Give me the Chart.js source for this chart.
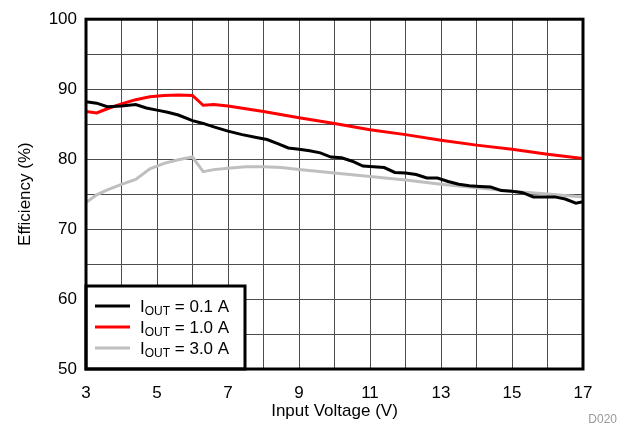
<!DOCTYPE html>
<html>
<head>
<meta charset="utf-8">
<script src="https://cdn.jsdelivr.net/npm/chart.js@4"></script>
<style>
  html, body { margin: 0; padding: 0; background: #fff; }
  #wrap { width: 628px; height: 431px; position: relative; }
</style>
</head>
<body>
<div id="wrap"><canvas id="eff-chart"></canvas></div>
<script>
// Efficiency vs input voltage
const v_01 = [3.0, 3.3, 3.6, 4.0, 4.4, 4.7, 5.0, 5.3, 5.6, 6.0, 6.3, 6.6, 7.0, 7.4, 7.8, 8.1, 8.4, 8.7, 9.0, 9.3, 9.6, 9.9, 10.2, 10.5, 10.8, 11.1, 11.4, 11.7, 12.0, 12.3, 12.6, 12.9, 13.2, 13.5, 13.8, 14.1, 14.4, 14.7, 15.0, 15.3, 15.6, 15.9, 16.2, 16.5, 16.8, 17.0];
const eff_01 = [88.2, 88.0, 87.5, 87.6, 87.8, 87.3, 87.0, 86.7, 86.3, 85.5, 85.1, 84.6, 84.0, 83.5, 83.1, 82.8, 82.2, 81.6, 81.4, 81.2, 80.9, 80.3, 80.2, 79.7, 79.0, 78.9, 78.8, 78.1, 78.0, 77.8, 77.3, 77.3, 76.8, 76.4, 76.2, 76.1, 76.0, 75.5, 75.4, 75.2, 74.6, 74.6, 74.6, 74.3, 73.7, 73.9];

const v_10 = [3.0, 3.3, 3.6, 4.0, 4.4, 4.8, 5.2, 5.6, 6.0, 6.3, 6.6, 7.0, 7.5, 8.0, 9.0, 10.0, 11.0, 12.0, 13.0, 14.0, 15.0, 16.0, 17.0];
const eff_10 = [86.8, 86.6, 87.2, 87.9, 88.5, 88.9, 89.1, 89.15, 89.1, 87.7, 87.8, 87.6, 87.2, 86.8, 85.9, 85.1, 84.2, 83.5, 82.7, 82.0, 81.4, 80.7, 80.1];

const v_30 = [3.0, 3.3, 3.6, 4.0, 4.4, 4.8, 5.2, 5.6, 6.0, 6.3, 6.6, 7.0, 7.5, 8.0, 8.5, 9.0, 10.0, 11.0, 12.0, 13.0, 14.0, 15.0, 16.0, 17.0];
const eff_30 = [73.8, 74.9, 75.6, 76.4, 77.1, 78.6, 79.4, 79.9, 80.3, 78.2, 78.5, 78.7, 78.9, 78.9, 78.8, 78.5, 78.0, 77.5, 77.0, 76.4, 75.9, 75.4, 75.0, 74.6];

const series_names = ['0.1 A', '1.0 A', '3.0 A'];
const series_colors = ['#000000', '#ff0000', '#bfbfbf'];

const font_family = '"Liberation Sans", Arial, Helvetica, sans-serif';
const toPoints = (xs, ys) => xs.map((x, i) => ({x: x, y: ys[i]}));

// Legend with the OUT subscript, drawn by hand
const legendBox = {
  id: 'legendBox',
  afterDatasetsDraw(chart) {
    const ctx = chart.ctx;
    const area = chart.chartArea;
    const left = area.left, right = area.left + 159;
    const top = area.bottom - 83, bottom = area.bottom;
    ctx.save();
    ctx.fillStyle = '#fff';
    ctx.fillRect(left, top, right - left, bottom - top);
    ctx.lineWidth = 3;
    ctx.strokeStyle = '#000';
    ctx.strokeRect(left, top, right - left, bottom - top);
    series_names.forEach((name, i) => {
      const y = top + 20 + i * 21;
      ctx.strokeStyle = series_colors[i];
      ctx.lineWidth = 3;
      ctx.beginPath();
      ctx.moveTo(left + 9, y);
      ctx.lineTo(left + 44, y);
      ctx.stroke();
      ctx.fillStyle = '#000';
      ctx.textBaseline = 'alphabetic';
      ctx.font = '17px ' + font_family;
      let x = left + 54;
      const base = y + 6;
      ctx.fillText('I', x, base);
      x += ctx.measureText('I').width;
      ctx.font = '12px ' + font_family;
      ctx.fillText('OUT', x, base + 3);
      x += ctx.measureText('OUT').width;
      ctx.font = '17px ' + font_family;
      ctx.fillText(' = ' + name, x, base);
    });
    ctx.restore();
  },
  afterDraw(chart) {
    const ctx = chart.ctx;
    const area = chart.chartArea;
    ctx.save();
    ctx.lineWidth = 3;
    ctx.strokeStyle = '#000';
    ctx.strokeRect(area.left, area.top, area.right - area.left, area.bottom - area.top);
    ctx.fillStyle = '#9a9a9a';
    ctx.font = '12px ' + font_family;
    ctx.textAlign = 'right';
    ctx.textBaseline = 'middle';
    ctx.fillText('D020', 617, 420);
    ctx.restore();
  }
};

const ctx = document.getElementById('eff-chart');
new Chart(ctx, {
  type: 'line',
  data: {
    datasets: [
      { label: series_names[0], data: toPoints(v_01, eff_01), borderColor: series_colors[0] },
      { label: series_names[1], data: toPoints(v_10, eff_10), borderColor: series_colors[1] },
      { label: series_names[2], data: toPoints(v_30, eff_30), borderColor: series_colors[2] }
    ]
  },
  options: {
    responsive: true,
    maintainAspectRatio: false,
    animation: false,
    layout: { padding: { top: 17, right: 45, bottom: 0, left: 0 } },
    elements: {
      point: { radius: 0 },
      line: { borderWidth: 3, tension: 0, fill: false }
    },
    plugins: {
      legend: { display: false },
      tooltip: { enabled: false }
    },
    scales: {
      x: {
        type: 'linear',
        min: 3,
        max: 17,
        afterFit: s => { s.height = 62; },
        grid: { color: '#4d4d4d', lineWidth: 1, drawTicks: false },
        border: { display: false },
        ticks: {
          stepSize: 1,
          padding: 14,
          color: '#000',
          font: { family: font_family, size: 17 },
          maxRotation: 0,
          autoSkip: false,
          callback: v => (v % 2 === 1 ? String(v) : '')
        },
        title: {
          display: true,
          text: 'Input Voltage (V)',
          color: '#000',
          font: { family: font_family, size: 17 },
          padding: { top: 0, bottom: 9 }
        }
      },
      y: {
        min: 50,
        max: 100,
        afterFit: s => { s.width = 86; },
        grid: { color: '#4d4d4d', lineWidth: 1, drawTicks: false },
        border: { display: false },
        ticks: {
          stepSize: 5,
          padding: 9,
          color: '#000',
          font: { family: font_family, size: 17 },
          autoSkip: false,
          callback: v => (v % 10 === 0 ? String(v) : '')
        },
        title: {
          display: true,
          text: 'Efficiency (%)',
          color: '#000',
          font: { family: font_family, size: 17 },
          padding: { top: 15, bottom: 0 }
        }
      }
    }
  },
  plugins: [legendBox]
});
</script>
</body>
</html>
